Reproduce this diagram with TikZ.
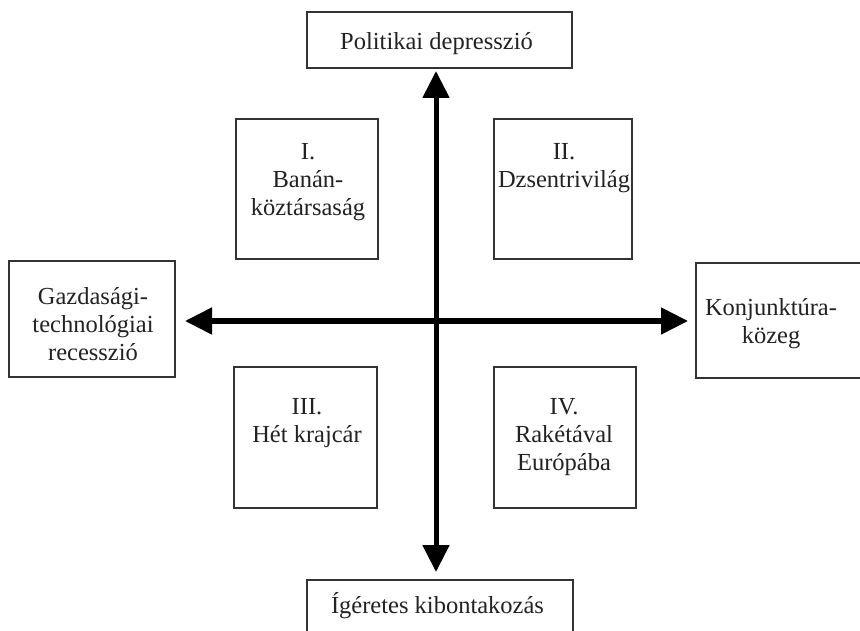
\documentclass[tikz,border=0pt]{standalone}
\usepackage{fontspec}
\setmainfont{Liberation Serif}
\usetikzlibrary{arrows.meta}
\definecolor{inkc}{HTML}{222222}
\definecolor{framec}{HTML}{333333}
\tikzset{
  box/.style={draw=framec, line width=1.3pt, inner sep=0pt, fill=none},
  lbl/.style={text=inkc, inner sep=0pt, align=center, font=\fontsize{24.5}{28}\selectfont},
  axis/.style={line width=5pt, draw=black, {Triangle[length=27pt,width=26pt]}-{Triangle[length=27pt,width=26pt]}},
}
\begin{document}
\begin{tikzpicture}[x=1pt,y=-1pt]
\useasboundingbox (0,0) rectangle (860,631);
\clip (0,0) rectangle (860,631);
% boxes
\node[box, minimum width=265pt, minimum height=56pt] (top) at (439.5,40) {};
\node[box, minimum width=142pt, minimum height=140pt] (q1) at (307,189) {};
\node[box, minimum width=138pt, minimum height=140pt] (q2) at (563,189) {};
\node[box, minimum width=166pt, minimum height=116pt] (left) at (92,319) {};
\node[box, minimum width=174pt, minimum height=115pt] (right) at (783,320.5) {};
\node[box, minimum width=143pt, minimum height=141pt] (q3) at (305.5,437.5) {};
\node[box, minimum width=142pt, minimum height=141pt] (q4) at (565,437.5) {};
\node[box, minimum width=266pt, minimum height=60pt] (bot) at (440,610) {};
% texts
\node[lbl, anchor=base] (ttop) at (436.5,50) {Politikai depresszió};
\node[lbl, anchor=north] (t1) at (308,143.5) {I.\\Banán-\\köztársaság};
\node[lbl, anchor=north] (t2) at (564,143.5) {II.\\Dzsentrivilág};
\node[lbl, anchor=north] (tleft) at (93,287.5) {Gazdasági-\\technológiai\\recesszió};
\node[lbl, anchor=north] (tright) at (771,298.5) {Konjunktúra-\\közeg};
\node[lbl, anchor=north] (t3) at (307,398.5) {III.\\Hét krajcár};
\node[lbl, anchor=north] (t4) at (564,398.5) {IV.\\Rakétával\\Európába};
\node[lbl, anchor=base] (tbot) at (437.5,613) {Ígéretes kibontakozás};
% axes
\coordinate (vt) at (436,71);
\coordinate (vb) at (436,572);
\coordinate (hl) at (185,321);
\coordinate (hr) at (688,321);
\draw[axis] (vb) -- (vt);
\draw[axis] (hl) -- (hr);
\end{tikzpicture}
\end{document}
